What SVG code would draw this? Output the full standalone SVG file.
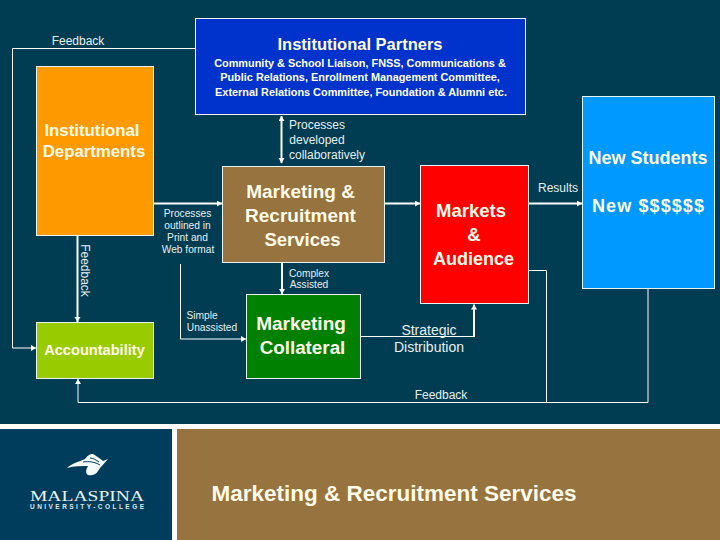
<svg xmlns="http://www.w3.org/2000/svg" width="720" height="540" viewBox="0 0 720 540">
<defs>
<marker id="ah" markerUnits="userSpaceOnUse" markerWidth="7" markerHeight="7" refX="5" refY="3" orient="auto-start-reverse"><path d="M0 0L5 3L0 6Z" fill="#fff"/></marker>
</defs>
<style>
text{font-family:"Liberation Sans",Arial,sans-serif;fill:#fff}
.b{font-weight:700;fill:#fffbe8;text-anchor:middle}
.l{font-size:12px;fill:#e8eef0;text-anchor:middle}
.d{font-size:14px;fill:#e8eef0;text-anchor:middle}
.s{font-size:10.2px;fill:#e8eef0;text-anchor:middle}
.p{font-size:10.9px;font-weight:700;text-anchor:middle}
.box{stroke:#e8f4f0;stroke-width:1}
.c{fill:none;stroke:#fff;stroke-width:1}
.a{marker-end:url(#ah)}
.t{stroke-width:2}
</style>
<rect width="720" height="540" fill="#003d52"/>
<rect y="424" width="720" height="5" fill="#fff"/>
<rect y="429" width="172" height="111" fill="#003d5c"/>
<rect x="172" y="429" width="5" height="111" fill="#fff"/>
<rect x="177" y="429" width="543" height="111" fill="#97733f"/>
<g id="connectors">
<path class="c a" d="M195 48.500H12.500V348H36"/>
<path class="c a t" d="M77.500 235V322"/>
<path class="c a t" d="M154 203.500H222"/>
<path class="c a" d="M180.500 264V339H246"/>
<path class="c t" d="M281.500 116V163" marker-start="url(#ah)" marker-end="url(#ah)"/>
<path class="c a t" d="M282 263V294"/>
<path class="c a t" d="M385 203.500H420"/>
<path class="c a t" d="M528 203.500H582"/>
<path class="c" d="M360 336.500H474"/>
<path class="c a t" d="M474 337V304.500"/>
<path class="c" d="M528 270.500H546.500V402.500"/>
<path class="c a" d="M648 288V402.500H78V379"/>
</g>
<g id="institutional-partners">
<rect class="box" x="195.500" y="18.500" width="330" height="96" fill="#0033cc"/>
<text class="b" x="360" y="50" font-size="16.500">Institutional Partners</text>
<text class="p" x="360" y="67">Community &amp; School Liaison, FNSS, Communications &amp;</text>
<text class="p" x="360" y="81">Public Relations, Enrollment Management Committee,</text>
<text class="p" x="361" y="96">External Relations Committee, Foundation &amp; Alumni etc.</text>
</g>
<g id="institutional-departments">
<rect class="box" x="36.500" y="66.500" width="117" height="169" fill="#ff9900"/>
<text class="b" x="92" y="136" font-size="16.800">Institutional</text>
<text class="b" x="94" y="157" font-size="16.800">Departments</text>
</g>
<g id="marketing-recruitment">
<rect class="box" x="222.500" y="166.500" width="162" height="96" fill="#97733f"/>
<text class="b" x="300.500" y="198" font-size="19">Marketing &amp;</text>
<text class="b" x="300.500" y="222" font-size="19">Recruitment</text>
<text class="b" x="302.500" y="246" font-size="18.500">Services</text>
</g>
<g id="markets-audience">
<rect class="box" x="420.500" y="165.500" width="108" height="138" fill="#ff0000"/>
<text class="b" x="471" y="217" font-size="18.500">Markets</text>
<text class="b" x="474" y="241" font-size="18.500">&amp;</text>
<text class="b" x="473.500" y="265" font-size="18">Audience</text>
</g>
<g id="new-students">
<rect class="box" x="582.500" y="96.500" width="132" height="192" fill="#0099ff"/>
<text class="b" x="648" y="164" font-size="18">New Students</text>
<text class="b" x="648" y="212" font-size="18" textLength="112">New $$$$$$</text>
</g>
<g id="accountability">
<rect class="box" x="36.500" y="322.500" width="117" height="56" fill="#99cc00"/>
<text class="b" x="94.500" y="355" font-size="14.600">Accountability</text>
</g>
<g id="marketing-collateral">
<rect class="box" x="246.500" y="294.500" width="114" height="84" fill="#008000"/>
<text class="b" x="301" y="330" font-size="19">Marketing</text>
<text class="b" x="302.500" y="354" font-size="18.800">Collateral</text>
</g>
<g id="labels">
<text class="l" x="78" y="45">Feedback</text>
<text class="l" x="317" y="129">Processes</text>
<text class="l" x="317" y="144">developed</text>
<text class="l" x="327" y="159">collaboratively</text>
<text class="s" x="187.500" y="217">Processes</text>
<text class="s" x="187.500" y="229">outlined in</text>
<text class="s" x="187.500" y="241">Print and</text>
<text class="s" x="188" y="253">Web format</text>
<text class="l" transform="translate(81 270.500) rotate(90)">Feedback</text>
<text class="s" x="202" y="319">Simple</text>
<text class="s" x="212" y="331">Unassisted</text>
<text class="s" x="309" y="277">Complex</text>
<text class="s" x="309" y="288">Assisted</text>
<text class="l" x="558" y="192">Results</text>
<text class="d" x="429" y="335">Strategic</text>
<text class="d" x="429" y="352">Distribution</text>
<text class="l" x="441" y="399">Feedback</text>
</g>
<g id="footer">
<path d="M67 468C72 463 79 462 85 459C88 455 90 454 93 454C97 456 100 459 103 461L108 459C105 463 101 466 98 471C96 475 91 476 88 475C85 473 86 469 88 466C82 466 74 466 67 468Z" fill="#f4fbfa"/>
<path d="M83 462C89 461 95 462 100 465M90 458C93 458 96 460 99 462" fill="none" stroke="#003d5c" stroke-width="1"/>
<text x="30" y="501" font-size="15.500" textLength="114" lengthAdjust="spacingAndGlyphs" style="font-family:'Liberation Serif',serif;fill:#e8f2f2">MALASPINA</text>
<text x="30" y="509" font-size="6.500" textLength="114" style="fill:#dce8ea;font-weight:700">UNIVERSITY-COLLEGE</text>
<text class="b" x="394" y="501" font-size="22.500">Marketing &amp; Recruitment Services</text>
</g>
</svg>
